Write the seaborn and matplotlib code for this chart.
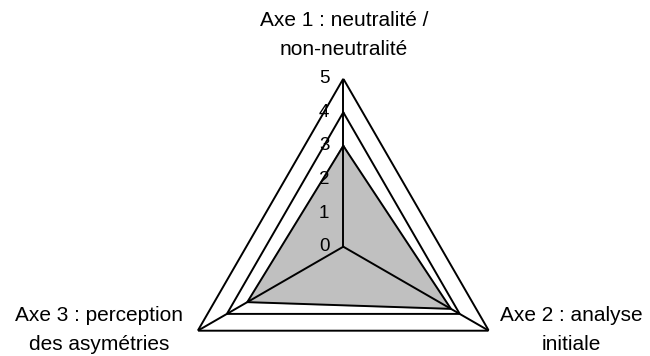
import numpy as np
import pandas as pd
import matplotlib
matplotlib.use("Agg")
import matplotlib.pyplot as plt
import matplotlib.transforms as mtransforms
import seaborn as sns

# ---- data ----
categories = ["Axe 1 : neutralité /\nnon-neutralité",
              "Axe 2 : analyse\ninitiale",
              "Axe 3 : perception\ndes asymétries"]
values = [3.0, 3.7, 3.3]
grid_levels = [1, 2, 3, 4, 5]
tick_labels = ["0", "1", "2", "3", "4", "5"]

sns.set_theme(style="white")
plt.rcParams["font.family"] = ["Liberation Sans", "DejaVu Sans"]

W, H = 650, 356
fig = plt.figure(figsize=(W / 100, H / 100), dpi=100)
cx, cy, R = 343.3, 246.7, 168.0
ax = fig.add_axes([(cx - R) / W, (H - cy - R) / H, 2 * R / W, 2 * R / H],
                  projection="polar")
ax.set_theta_offset(np.pi / 2)
ax.set_theta_direction(-1)
ax.set_ylim(0, 5)
ax.grid(False)
ax.set_xticks([])
ax.set_yticks([])
ax.spines["polar"].set_visible(False)
ax.patch.set_alpha(0)

n = len(categories)
angles = [2 * np.pi * i / n for i in range(n)]
closed_angles = angles + [angles[0]]

# grid polygons
for lv in grid_levels:
    ax.plot(closed_angles, [lv] * (n + 1), color="black", lw=1.4, zorder=1,
            solid_joinstyle="miter")

# data polygon (fill + outline)
ax.fill(closed_angles, values + [values[0]], color="#c0c0c0", zorder=2)
df = pd.DataFrame({"theta": closed_angles, "r": values + [values[0]]})
sns.lineplot(data=df, x="theta", y="r", sort=False, estimator=None,
             color="black", lw=1.4, ax=ax, zorder=3)
ax.set_xlabel("")
ax.set_ylabel("")

# spokes
for a in angles:
    ax.plot([a, a], [0, 5], color="black", lw=1.4, zorder=4)

# radial tick labels
off = mtransforms.offset_copy(ax.transData, fig=fig, x=-19, y=0, units="dots")
for i, t in enumerate(tick_labels):
    ax.text(0, i, t, transform=off, ha="center", va="center",
            fontsize=13.5, color="black", zorder=5)

# category labels (pixel positions)
def ftext(x, y, s):
    fig.text(x / W, 1 - y / H, s, ha="center", va="center", fontsize=15,
             color="black", linespacing=1.65, multialignment="center")

ftext(344, 35, categories[0])
ftext(571, 330, categories[1])
ftext(99, 330, categories[2])

fig.savefig("out.png", dpi=100)
